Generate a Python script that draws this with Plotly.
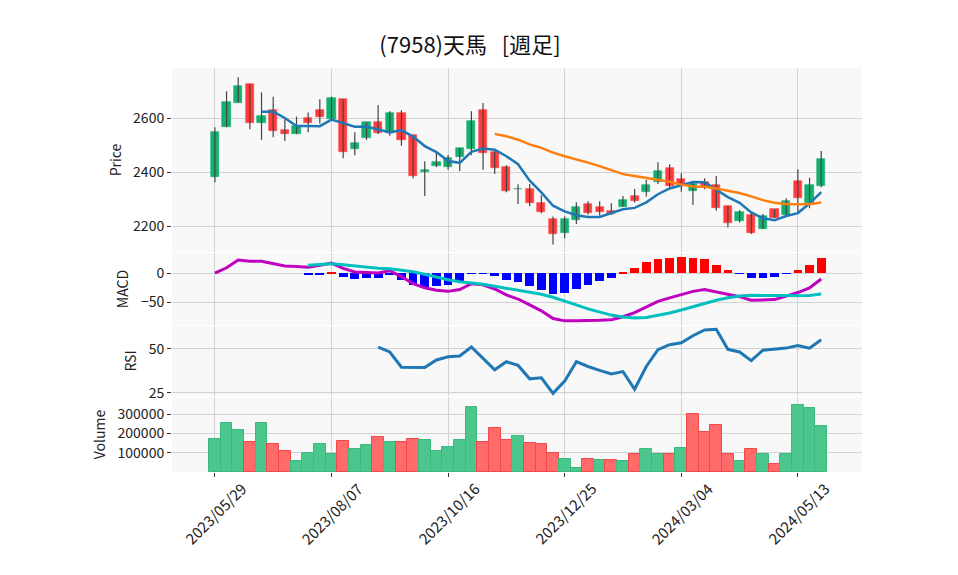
import pandas as pd
import numpy as np
import plotly.graph_objects as go
from plotly.subplots import make_subplots

# ---------------- data ----------------
start_date = "2023-05-29"
n_weeks = 53
dates = pd.date_range(start_date, periods=n_weeks, freq="7D")

opens = [2384, 2567, 2658, 2727, 2581, 2631, 2557, 2541, 2600, 2631,
         2598, 2670, 2488, 2528, 2585, 2544, 2620, 2537, 2400, 2425,
         2421, 2456, 2488, 2631, 2475, 2419, 2338, 2338, 2285, 2227,
         2177, 2223, 2281, 2272, 2256, 2273, 2312, 2328, 2365, 2416,
         2375, 2332, 2365, 2353, 2275, 2221, 2241, 2191, 2263, 2242,
         2368, 2285, 2351]
highs = [2567, 2700, 2752, 2727, 2696, 2680, 2596, 2606, 2621, 2670,
         2680, 2670, 2548, 2585, 2649, 2626, 2630, 2537, 2441, 2473,
         2464, 2489, 2626, 2656, 2483, 2426, 2356, 2357, 2315, 2236,
         2236, 2289, 2293, 2293, 2285, 2312, 2338, 2372, 2437, 2430,
         2396, 2365, 2378, 2386, 2275, 2260, 2251, 2246, 2263, 2304,
         2411, 2380, 2479]
lows = [2363, 2567, 2658, 2559, 2520, 2530, 2516, 2541, 2548, 2581,
        2598, 2452, 2463, 2520, 2542, 2535, 2498, 2378, 2312, 2419,
        2409, 2405, 2463, 2409, 2394, 2326, 2283, 2275, 2248, 2133,
        2156, 2209, 2244, 2240, 2242, 2273, 2288, 2310, 2357, 2345,
        2328, 2279, 2337, 2258, 2196, 2214, 2172, 2191, 2230, 2242,
        2254, 2267, 2345]
closes = [2549, 2660, 2720, 2581, 2609, 2554, 2541, 2572, 2581, 2606,
          2674, 2474, 2509, 2585, 2547, 2620, 2521, 2388, 2409, 2437,
          2452, 2489, 2590, 2470, 2417, 2332, 2340, 2285, 2254, 2170,
          2227, 2270, 2251, 2254, 2244, 2297, 2295, 2353, 2405, 2351,
          2357, 2355, 2347, 2267, 2214, 2252, 2177, 2238, 2230, 2294,
          2306, 2353, 2449]
volumes = [173500, 253800, 219600, 156400, 253800, 146100, 110200, 59000, 96600, 146100,
           91400, 161500, 120500, 141000, 182000, 156400, 156400, 171800, 166600, 110200,
           130700, 166600, 335800, 156400, 228200, 166600, 187100, 151300, 146100, 100000,
           69200, 23100, 69200, 64100, 64100, 59000, 94900, 120500, 94900, 94900,
           125600, 300000, 207600, 243500, 94900, 59000, 120500, 94900, 43600, 94900,
           346100, 330700, 238400]
macd_vals = [0, 9, 22, 20, 20, 16, 12, 11, 10, 13,
             17, 8, 2, 1, 0, 4, -6, -18, -25, -29,
             -31, -28, -18, -20, -27, -37, -44, -54, -64, -77,
             -81, -81, -81, -80, -79, -74, -67, -57, -48, -42,
             -36, -31, -28, -32, -37, -40, -46, -46, -45, -39,
             -33, -25, -10]
rsi_vals = [None] * 14 + [50.9, 48.1, 39.5, 39.5, 39.3, 43.6, 45.4, 45.8, 50.9, 44.5,
                          38.0, 42.6, 40.5, 32.9, 33.5, 24.7, 31.6, 42.6, 39.9, 37.7,
                          35.7, 37.0, 27.0, 39.9, 49.4, 52.2, 53.3, 57.3, 60.6, 61.0,
                          49.6, 48.1, 43.2, 49.1, 49.6, 50.3, 51.8, 50.3, 55.0]
tick_dates = ["2023-05-29", "2023-08-07", "2023-10-16", "2023-12-25", "2024-03-04", "2024-05-13"]
tick_labels = ["2023/05/29", "2023/08/07", "2023/10/16", "2023/12/25", "2024/03/04", "2024/05/13"]
title_text = "(7958)天馬\u00a0\u00a0\u00a0[週足]"

# ---------------- derived series ----------------
df = pd.DataFrame({"open": opens, "high": highs, "low": lows, "close": closes,
                   "volume": volumes, "macd": macd_vals}, index=dates)
df["ma5"] = df["close"].rolling(5).mean()
df["ma25"] = df["close"].rolling(25).mean()
df["signal"] = df["macd"].rolling(9).mean()
df["hist"] = df["macd"] - df["signal"]
up = df["close"] >= df["open"]
vol_up = df["close"].diff().fillna(df["close"] - df["open"]) >= 0

GREEN = "#13b06f"
RED = "#ff3c3c"
WEEK_MS = 7 * 24 * 3600 * 1000

fig = make_subplots(rows=4, cols=1, shared_xaxes=True, vertical_spacing=0.01)

# wicks
wx, wy = [], []
for d, lo, hi in zip(df.index, df["low"], df["high"]):
    wx += [d, d, None]
    wy += [lo, hi, None]
fig.add_trace(go.Scatter(x=wx, y=wy, mode="lines", line=dict(color="#444444", width=1.2),
                         hoverinfo="skip"), row=1, col=1)
# bodies
body_base = np.minimum(df["open"], df["close"])
body_h = np.maximum((df["close"] - df["open"]).abs(), 1.5)
body_col = [GREEN if u else RED for u in up]
fig.add_trace(go.Bar(x=df.index, y=body_h, base=body_base, width=0.7 * WEEK_MS,
                     marker=dict(color=body_col, line=dict(color=body_col, width=0.6))),
              row=1, col=1)
fig.add_trace(go.Scatter(x=df.index, y=df["ma5"], mode="lines",
                         line=dict(color="#1f77b4", width=2.5)), row=1, col=1)
fig.add_trace(go.Scatter(x=df.index, y=df["ma25"], mode="lines",
                         line=dict(color="#ff7f0e", width=2.5)), row=1, col=1)

# MACD
hist_col = ["#ff0000" if h > 0 else "#0000ff" for h in df["hist"].fillna(0)]
fig.add_trace(go.Bar(x=df.index, y=df["hist"], width=0.75 * WEEK_MS,
                     marker=dict(color=hist_col, line=dict(width=0))), row=2, col=1)
fig.add_trace(go.Scatter(x=df.index, y=df["macd"], mode="lines",
                         line=dict(color="#bf00bf", width=3)), row=2, col=1)
fig.add_trace(go.Scatter(x=df.index, y=df["signal"], mode="lines",
                         line=dict(color="#00bfbf", width=3)), row=2, col=1)

# RSI
fig.add_trace(go.Scatter(x=df.index, y=rsi_vals, mode="lines",
                         line=dict(color="#1f77b4", width=3)), row=3, col=1)

# Volume
vfill = ["#4bc68d" if u else "#ff6b6b" for u in vol_up]
vline = ["#3cb97f" if u else "#f24848" for u in vol_up]
fig.add_trace(go.Bar(x=df.index, y=df["volume"], width=WEEK_MS,
                     marker=dict(color=vfill, line=dict(color=vline, width=1))), row=4, col=1)

FONT = "Noto Sans CJK JP"
# page is offset by the browser's 8px body margin: plot area wanted at x 172..862, y 68..472
OFF = 8
TOP, BOT = 68 - OFF, 472 - OFF
H = float(BOT - TOP)
def dom(top, bot):
    return [(472 - bot) / H, (472 - top) / H]

grid = "#d2d2d2"
yax_common = dict(showgrid=True, gridcolor=grid, gridwidth=1, zeroline=False,
                  ticks="outside", ticklen=4, tickcolor="#333333",
                  tickfont=dict(size=14, color="#222222", family=FONT),
                  title_font=dict(size=14, color="#222222", family=FONT), showline=False)

fig.update_layout(
    width=958, height=575,
    margin=dict(l=172 - OFF, r=958 - (862 - OFF), t=TOP, b=575 - BOT, autoexpand=False),
    paper_bgcolor="white", plot_bgcolor="#f8f8f8",
    showlegend=False, barmode="overlay", bargap=0,
    font=dict(family=FONT, color="#222222", size=13),
    title=dict(text=title_text, x=(470 - OFF) / 958, xanchor="center", y=1 - (45 - OFF) / 575,
               yanchor="middle", yref="container", font=dict(size=22, family=FONT, color="#111111")),
    yaxis=dict(domain=dom(68, 252), range=[2105, 2786], tickvals=[2200, 2400, 2600],
               title=dict(text="Price", standoff=8), **yax_common),
    yaxis2=dict(domain=dom(253, 325), range=[-88, 34], tickvals=[-50, 0],
                title=dict(text="MACD", standoff=8), **yax_common),
    yaxis3=dict(domain=dom(326, 396), range=[23.2, 62.8], tickvals=[25, 50],
                title=dict(text="RSI", standoff=8), **yax_common),
    yaxis4=dict(domain=dom(397, 472), range=[0, 389000], tickvals=[100000, 200000, 300000],
                tickformat="d", title=dict(text="Volume", standoff=8), **yax_common),
)

xr = ["2023-05-03 06:00", "2024-06-20 12:00"]
for i in range(1, 5):
    fig.update_xaxes(row=i, col=1, range=xr, type="date", tickvals=tick_dates,
                     showgrid=True, gridcolor=grid, gridwidth=1, zeroline=False, showline=False,
                     rangeslider=dict(visible=False))
for i in range(1, 4):
    fig.update_xaxes(row=i, col=1, showticklabels=False, ticks="")
fig.update_xaxes(row=4, col=1, showticklabels=False, ticks="outside", ticklen=4,
                 tickcolor="#333333")

# rotated date labels centred under their ticks (as in the reference)
label_center_y = -(513 - 472) / H
for d, lab in zip(tick_dates, tick_labels):
    fig.add_annotation(x=d, y=label_center_y, xref="x4", yref="paper", text=lab,
                       showarrow=False, textangle=-45, xanchor="center", yanchor="middle",
                       font=dict(size=15, color="#222222", family=FONT))

fig.write_html("out.html")
